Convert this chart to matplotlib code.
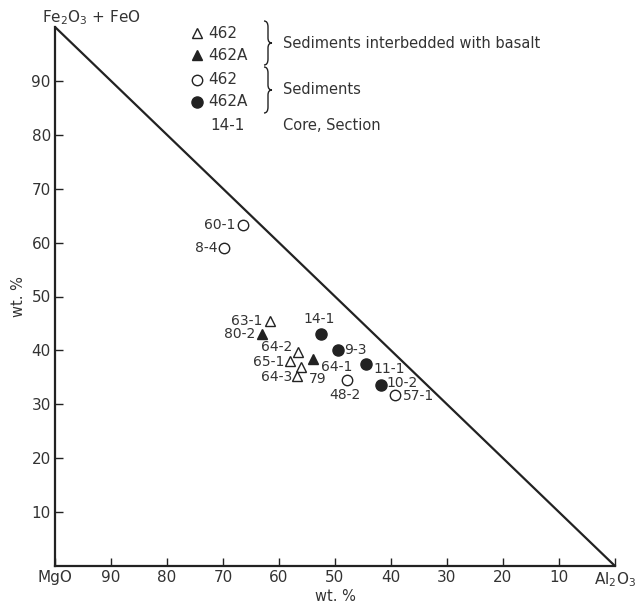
import matplotlib
matplotlib.use('Agg')
from matplotlib import pyplot as plt
from matplotlib.path import Path
from matplotlib.patches import PathPatch

# datos (eje x: escala MgO 100 -> Al2O3 0)
etiquetas = ['60-1', '8-4', '63-1', '80-2', '14-1', '64-2', '9-3', '65-1',
             '64-1', '79', '11-1', '64-3', '48-2', '10-2', '57-1']
valores_x = [66.5, 69.9, 61.6, 63.0, 52.5, 56.6, 49.5, 58.0,
             53.9, 56.1, 44.5, 56.8, 47.9, 41.8, 39.3]
valores_y = [63.2, 59.0, 45.5, 43.0, 43.0, 39.7, 40.0, 38.1,
             38.4, 37.0, 37.5, 35.2, 34.6, 33.6, 31.7]
# grupo: 'tri' = 462, 'tri_a' = 462A (con basalto), 'circ' = 462, 'circ_a' = 462A
grupos = ['circ', 'circ', 'tri', 'tri_a', 'circ_a', 'tri', 'circ_a', 'tri',
          'tri_a', 'tri', 'circ_a', 'tri', 'circ', 'circ_a', 'circ']

ticks_x = [100, 90, 80, 70, 60, 50, 40, 30, 20, 10, 0]
nombres_x = ['MgO', '90', '80', '70', '60', '50', '40', '30', '20', '10', r'Al$_2$O$_3$']
ticks_y = [10, 20, 30, 40, 50, 60, 70, 80, 90]

COLOR = '#222222'
TEXTO = '#333333'

estilos = {
    'tri': dict(marker='^', mfc='white', mec=COLOR, ms=7.5, mew=1.0),
    'tri_a': dict(marker='^', mfc=COLOR, mec=COLOR, ms=7.5, mew=1.0),
    'circ': dict(marker='o', mfc='white', mec=COLOR, ms=7.5, mew=1.0),
    'circ_a': dict(marker='o', mfc=COLOR, mec=COLOR, ms=8, mew=1.0),
}

# desplazamiento de cada etiqueta (pixeles) y alineacion
posiciones = {
    '60-1': (-7, 0, 'right', 'center'),
    '8-4': (-6, 0, 'right', 'center'),
    '63-1': (-8, 0, 'right', 'center'),
    '80-2': (-7, 0, 'right', 'center'),
    '14-1': (-2, 8, 'center', 'bottom'),
    '64-2': (-6, 5, 'right', 'center'),
    '9-3': (6, 0, 'left', 'center'),
    '65-1': (-6, -1, 'right', 'center'),
    '64-1': (8, -8, 'left', 'center'),
    '79': (8, -12, 'left', 'center'),
    '11-1': (8, -5, 'left', 'center'),
    '64-3': (-5, -1, 'right', 'center'),
    '48-2': (-2, -8, 'center', 'top'),
    '10-2': (6, 2, 'left', 'center'),
    '57-1': (8, -1, 'left', 'center'),
}

plt.rcParams['font.family'] = ['DejaVu Sans']
fig = plt.figure(figsize=(6.43, 6.07), dpi=100)
ax = fig.add_axes([55 / 643, 41 / 607, 560 / 643, 539 / 607])
ax.set_xlim(100, 0)
ax.set_ylim(0, 100)
ax.spines['top'].set_visible(False)
ax.spines['right'].set_visible(False)
for lado in ['left', 'bottom']:
    ax.spines[lado].set_color(COLOR)
    ax.spines[lado].set_linewidth(1.6)

# hipotenusa del triangulo
ax.plot([100, 0], [100, 0], color=COLOR, lw=1.6, solid_capstyle='round', clip_on=False)

ax.set_xticks(ticks_x)
ax.set_xticklabels(nombres_x)
ax.set_yticks(ticks_y)
ax.tick_params(direction='in', length=6, width=1.0, color=COLOR,
               labelsize=11, labelcolor=TEXTO, pad=3)
ax.set_xlabel('wt. %', fontsize=10.5, color=TEXTO, labelpad=0)
ax.set_ylabel('wt. %', fontsize=10.5, color=TEXTO, labelpad=4)

for nombre, x, y, g in zip(etiquetas, valores_x, valores_y, grupos):
    ax.plot(x, y, linestyle='none', clip_on=False, **estilos[g])
    dx, dy, ha, va = posiciones[nombre]
    ax.annotate(nombre, (x, y), xytext=(dx, dy), textcoords='offset pixels',
                ha=ha, va=va, fontsize=10, color=TEXTO)

def fig_xy(px, py):
    return px / 643, 1 - py / 607

# titulo del vertice
fx, fy = fig_xy(42, 18)
fig.text(fx, fy, r'Fe$_2$O$_3$ + FeO', fontsize=11, color=TEXTO, ha='left', va='center')

# leyenda manual
leyenda = [('tri', '462', 33), ('tri_a', '462A', 55), ('circ', '462', 80), ('circ_a', '462A', 102)]
for g, texto, py in leyenda:
    fx, fy = fig_xy(197, py)
    fig.add_artist(plt.Line2D([fx], [fy], transform=fig.transFigure, linestyle='none', **estilos[g]))
    fx, fy = fig_xy(208, py)
    fig.text(fx, fy, texto, fontsize=11, color=TEXTO, ha='left', va='center')
fx, fy = fig_xy(210, 126)
fig.text(fx, fy, '14-1', fontsize=11, color=TEXTO, ha='left', va='center')

def llave(px, ytop, ybot, ancho):
    ym = (ytop + ybot) / 2
    codes = [Path.MOVETO, Path.CURVE3, Path.CURVE3, Path.LINETO, Path.LINETO,
             Path.CURVE3, Path.CURVE3, Path.MOVETO, Path.CURVE3, Path.CURVE3,
             Path.LINETO, Path.CURVE3, Path.CURVE3]
    pts = [(px, ytop), (px + ancho * 0.5, ytop), (px + ancho * 0.5, ytop + 6),
           (px + ancho * 0.5, ytop + 6), (px + ancho * 0.5, ym - 5),
           (px + ancho * 0.5, ym), (px + ancho, ym),
           (px + ancho, ym), (px + ancho * 0.5, ym), (px + ancho * 0.5, ym + 5),
           (px + ancho * 0.5, ybot - 6), (px + ancho * 0.5, ybot), (px, ybot)]
    verts = [fig_xy(a, b) for a, b in pts]
    fig.add_artist(PathPatch(Path(verts, codes), transform=fig.transFigure,
                             fill=False, edgecolor=COLOR, lw=1.0))

llave(264, 21, 65, 8)
llave(264, 67, 113, 8)

fx, fy = fig_xy(283, 43)
fig.text(fx, fy, 'Sediments interbedded with basalt', fontsize=10.5, color=TEXTO, ha='left', va='center')
fx, fy = fig_xy(283, 90)
fig.text(fx, fy, 'Sediments', fontsize=10.5, color=TEXTO, ha='left', va='center')
fx, fy = fig_xy(283, 126)
fig.text(fx, fy, 'Core, Section', fontsize=10.5, color=TEXTO, ha='left', va='center')

fig.savefig('out.png', dpi=100)
plt.close('all')
